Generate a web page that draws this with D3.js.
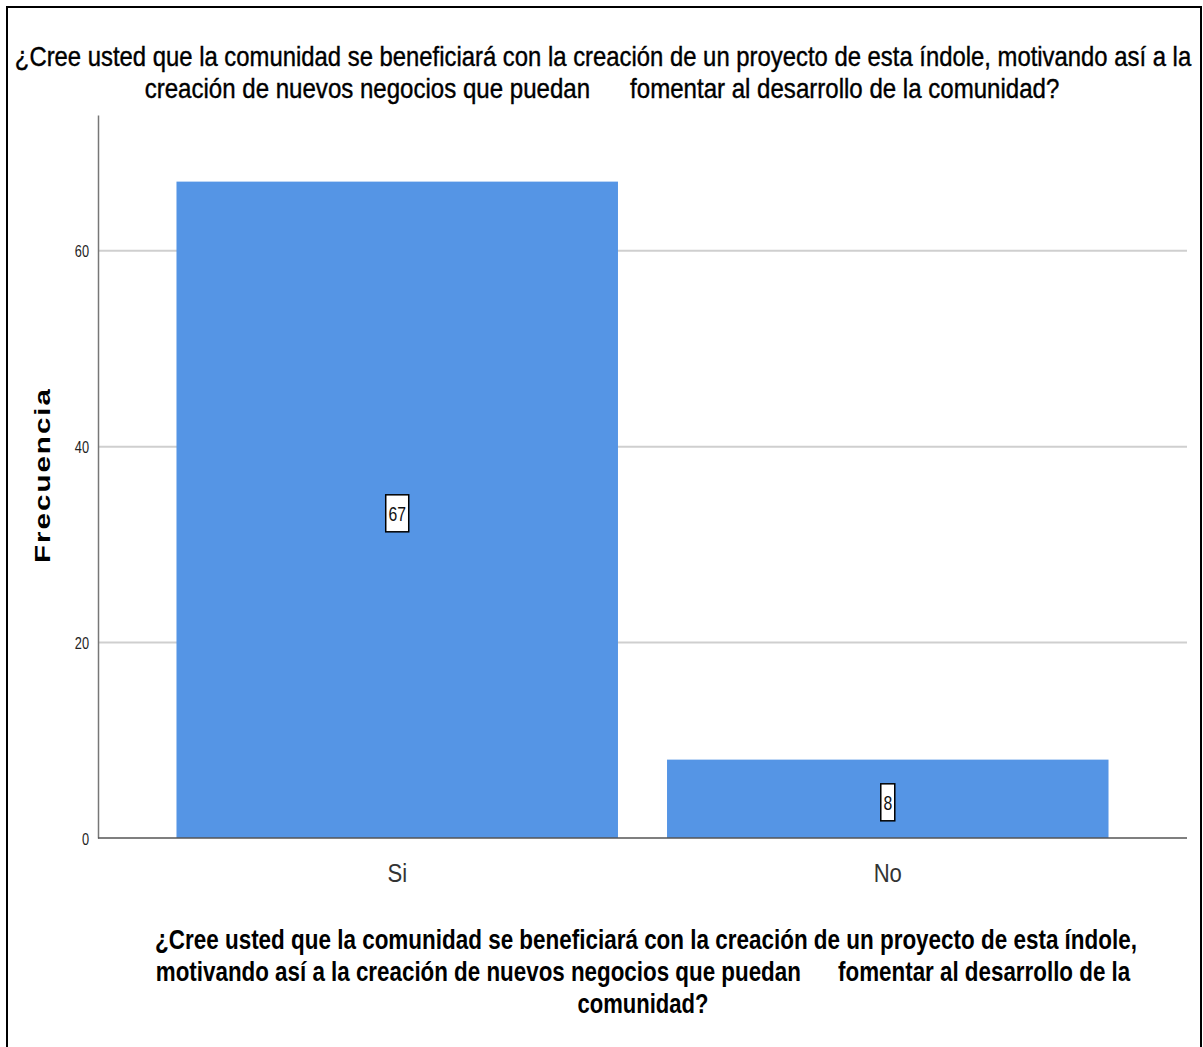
<!DOCTYPE html>
<html>
<head>
<meta charset="utf-8">
<script src="https://cdn.jsdelivr.net/npm/d3@7"></script>
<style>
  body { margin: 0; background: #fff; }
  text { white-space: pre; }
</style>
</head>
<body>
<div id="chart"></div>
<script>
// data
var categories = ["Si", "No"];
var frecuencias = [67, 8];
var yTicks = [0, 20, 40, 60];
var titleLines = [
  "¿Cree usted que la comunidad se beneficiará con la creación de un proyecto de esta índole, motivando así a la",
  "creación de nuevos negocios que puedan      fomentar al desarrollo de la comunidad?"
];
var xTitleLines = [
  "¿Cree usted que la comunidad se beneficiará con la creación de un proyecto de esta índole,",
  "motivando así a la creación de nuevos negocios que puedan      fomentar al desarrollo de la",
  "comunidad?"
];
var yTitle = "Frecuencia";

var W = 1203, H = 1047;
var margin = { left: 98, top: 115, right: 16, bottom: 209 };
var innerW = W - margin.left - margin.right;
var innerH = H - margin.top - margin.bottom;
var sansFont = "'Liberation Sans', Arial, sans-serif";

var svg = d3.select("#chart").append("svg")
  .attr("width", W).attr("height", H);

// squeeze a text horizontally to a target width, centred on cx
function fitText(sel, cx, y, len, rot) {
  sel.each(function () {
    var natural = this.getComputedTextLength();
    var sx = len / natural;
    d3.select(this)
      .attr("text-anchor", "middle")
      .attr("x", 0).attr("y", 0)
      .attr("transform", "translate(" + cx + "," + y + ")" + (rot ? " rotate(" + rot + ")" : "") + " scale(" + sx + ",1)");
  });
}

// outer frame
svg.append("rect")
  .attr("x", 7).attr("y", 7).attr("width", 1194).attr("height", 1060)
  .attr("fill", "none").attr("stroke", "#000").attr("stroke-width", 2);

var x = d3.scaleBand().domain(categories).range([0, innerW])
  .paddingInner(0.1).paddingOuter(0.16);
var y = d3.scaleLinear().domain([0, 73.8]).range([innerH, 0]);

var g = svg.append("g")
  .attr("transform", "translate(" + margin.left + "," + margin.top + ")");

// grid lines
g.append("g").attr("class", "yGrid")
  .call(d3.axisLeft(y).tickValues(yTicks.slice(1)).tickSize(-innerW).tickFormat(""))
  .call(s => s.select(".domain").remove())
  .selectAll("line").attr("stroke", "#cfcfcf").attr("stroke-width", 2);

// bars
g.selectAll("rect.bar")
  .data(frecuencias)
  .enter().append("rect")
  .attr("class", "bar")
  .attr("x", (d, i) => x(categories[i]))
  .attr("y", d => y(d))
  .attr("width", x.bandwidth())
  .attr("height", d => innerH - y(d))
  .attr("fill", "#5595e5");

// y axis
var yAxis = g.append("g").attr("class", "yAxis")
  .call(d3.axisLeft(y).tickValues(yTicks).tickSize(0).tickFormat(""));
yAxis.select(".domain").attr("stroke", "#777").attr("stroke-width", 1.5);
yAxis.selectAll(".tick").append("text")
  .attr("fill", "#222")
  .attr("text-anchor", "end")
  .attr("transform", "translate(-9,6) scale(0.8,1)")
  .style("font-family", sansFont)
  .style("font-size", "16px")
  .text(d => d);

// x axis line
g.append("line")
  .attr("x1", 0).attr("x2", innerW)
  .attr("y1", innerH).attr("y2", innerH)
  .attr("stroke", "#555").attr("stroke-width", 1.5);

// category labels
g.selectAll("text.cat")
  .data(categories)
  .enter().append("text")
  .attr("class", "cat")
  .attr("text-anchor", "middle")
  .attr("transform", d => "translate(" + (x(d) + x.bandwidth() / 2) + "," + (innerH + 44) + ") scale(0.85,1)")
  .style("font-family", sansFont)
  .style("font-size", "26px")
  .attr("fill", "#333")
  .text(d => d);

// value labels in boxes
var vl = g.selectAll("g.val")
  .data(frecuencias)
  .enter().append("g")
  .attr("class", "val")
  .attr("transform", (d, i) => "translate(" + (x(categories[i]) + x.bandwidth() / 2) + "," + ((y(d) + innerH) / 2 + 3) + ")");
vl.append("rect")
  .attr("x", d => String(d).length > 1 ? -11.5 : -7)
  .attr("width", d => String(d).length > 1 ? 23 : 14)
  .attr("y", -18).attr("height", 37)
  .attr("fill", "#fff").attr("stroke", "#000").attr("stroke-width", 1.5);
vl.append("text")
  .attr("text-anchor", "middle")
  .attr("transform", "translate(0,8) scale(0.75,1)")
  .style("font-family", sansFont)
  .style("font-size", "21px")
  .attr("fill", "#111")
  .text(d => d);

// y axis title
svg.append("text")
  .style("font-family", sansFont)
  .style("font-size", "22px").style("font-weight", "bold")
  .style("letter-spacing", "1.5px")
  .attr("fill", "#000")
  .text(yTitle)
  .call(s => fitText(s, 50, 475, 176, -90));

// chart title
var titleSpecs = [{ cx: 603, y: 66, len: 1177 }, { cx: 602, y: 98, len: 915 }];
svg.selectAll("text.title")
  .data(titleLines)
  .enter().append("text")
  .attr("class", "title")
  .style("font-family", sansFont)
  .style("font-size", "27px")
  .attr("fill", "#000")
  .attr("stroke", "#000").attr("stroke-width", 0.4)
  .text(d => d)
  .each(function (d, i) { fitText(d3.select(this), titleSpecs[i].cx, titleSpecs[i].y, titleSpecs[i].len); });

// x axis title
var xtSpecs = [{ cx: 646, y: 949, len: 982 }, { cx: 643, y: 981, len: 975 }, { cx: 643, y: 1013, len: 131 }];
svg.selectAll("text.xtitle")
  .data(xTitleLines)
  .enter().append("text")
  .attr("class", "xtitle")
  .style("font-family", sansFont)
  .style("font-size", "27px").style("font-weight", "bold")
  .attr("fill", "#000")
  .text(d => d)
  .each(function (d, i) { fitText(d3.select(this), xtSpecs[i].cx, xtSpecs[i].y, xtSpecs[i].len); });
</script>
</body>
</html>
